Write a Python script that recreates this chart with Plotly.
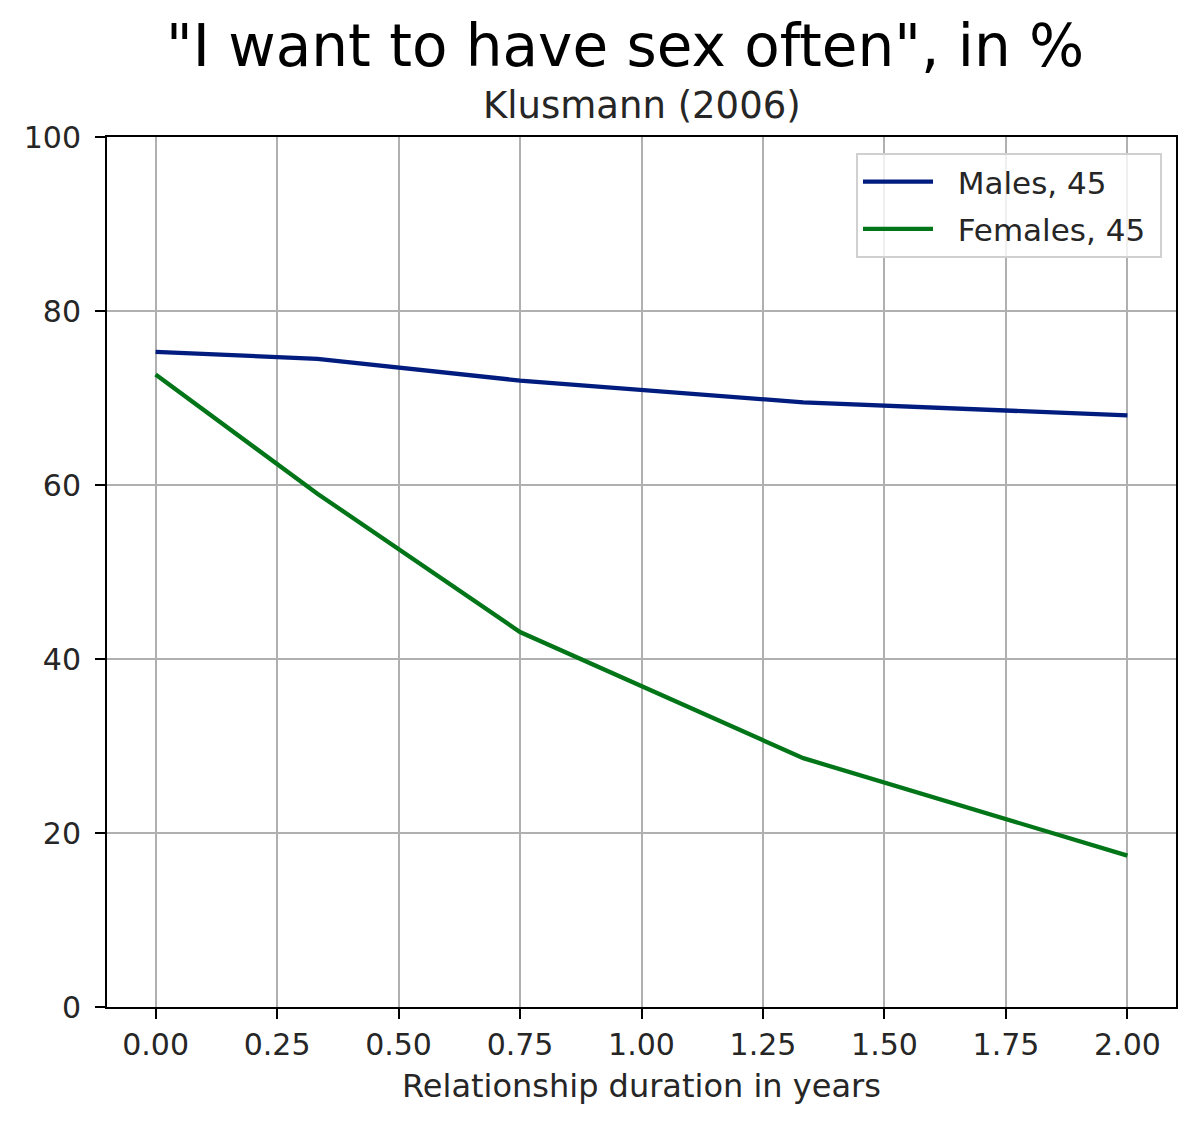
import plotly.graph_objects as go

# Data
duration_years = [0.0, 0.333, 0.75, 1.333, 2.0]
males_45 = [75.3, 74.5, 72.0, 69.5, 68.0]
females_45 = [72.7, 59.0, 43.1, 28.6, 17.4]
series_names = ["Males, 45", "Females, 45"]
x_ticks = [0.0, 0.25, 0.5, 0.75, 1.0, 1.25, 1.5, 1.75, 2.0]
x_tick_labels = ["0.00", "0.25", "0.50", "0.75", "1.00", "1.25", "1.50", "1.75", "2.00"]
y_ticks = [0, 20, 40, 60, 80, 100]

title_text = '"I want to have sex often", in %'
subtitle_text = "Klusmann (2006)"
xlabel_text = "Relationship duration in years"

FONT = "DejaVu Sans"
W, H = 1200, 1128
L, R, T, B = 107, 24, 137, 121
plot_h = H - T - B
NB = "\u00a0"

def py(ypix):
    return (H - B - ypix) / plot_h

fig = go.Figure()
fig.add_trace(go.Scatter(x=duration_years, y=males_45, mode="lines",
                         name=NB * 2 + series_names[0] + NB,
                         line=dict(color="#001c7f", width=4.3), legendgroup="m"))
fig.add_trace(go.Scatter(x=duration_years, y=females_45, mode="lines",
                         name=NB * 2 + series_names[1] + NB,
                         line=dict(color="#017517", width=4.3), legendgroup="f"))

axis_common = dict(showline=True, linecolor="black", linewidth=2, mirror=True,
                   showgrid=True, gridcolor="#b0b0b0", gridwidth=2,
                   ticks="outside", ticklen=10, tickwidth=2, tickcolor="black",
                   tickfont=dict(family=FONT, size=30, color="#262626"),
                   zeroline=False)

fig.update_xaxes(range=[-0.1, 2.1], tickvals=x_ticks, ticktext=x_tick_labels, **axis_common)
fig.update_yaxes(range=[0, 100], tickvals=y_ticks, ticklabelstandoff=8, **axis_common)

fig.update_layout(
    width=W, height=H,
    margin=dict(l=L, r=R, t=T, b=B, pad=0),
    plot_bgcolor="white", paper_bgcolor="white",
    font=dict(family=FONT, color="#262626"),
    showlegend=True,
    legend=dict(x=(1162 - L) / (W - L - R), y=py(153), xanchor="right", yanchor="top",
                bgcolor="rgba(255,255,255,0.8)", bordercolor="#d0d0d0", borderwidth=2,
                font=dict(family=FONT, size=31, color="#262626"),
                itemwidth=70, tracegroupgap=4, traceorder="grouped"),
    annotations=[
        dict(text=title_text, x=(625 - L) / (W - L - R), xref="paper", y=py(46), yref="paper",
             xanchor="center", yanchor="middle", showarrow=False,
             font=dict(family=FONT, size=58, color="#000000")),
        dict(text=subtitle_text, x=0.5, xref="paper", y=py(106), yref="paper",
             xanchor="center", yanchor="middle", showarrow=False,
             font=dict(family=FONT, size=37, color="#262626")),
        dict(text=xlabel_text, x=0.5, xref="paper", y=py(1086), yref="paper",
             xanchor="center", yanchor="middle", showarrow=False,
             font=dict(family=FONT, size=32, color="#262626")),
    ],
)

fig.write_html("out.html")
